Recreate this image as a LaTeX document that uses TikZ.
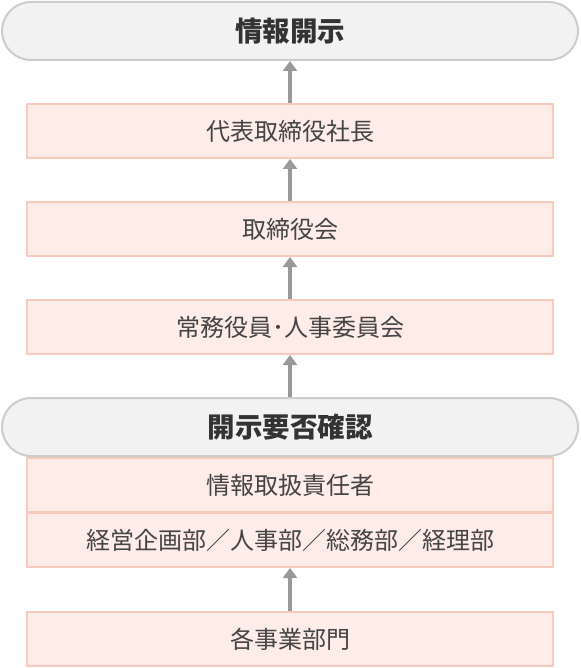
\documentclass[tikz,border=0pt]{standalone}
\usepackage{fontspec}
\setmainfont{Noto Sans CJK JP}
\usetikzlibrary{arrows.meta}
\usetikzlibrary{positioning}
\definecolor{pinkfill}{HTML}{FDECE8}
\definecolor{pinkline}{HTML}{F8CABD}
\definecolor{grayfill}{HTML}{F2F2F2}
\definecolor{grayline}{HTML}{CCCCCC}
\definecolor{arrowgray}{HTML}{999999}
\definecolor{textgray}{HTML}{444444}
\tikzset{
	pinkbox/.style={draw=pinkline,fill=pinkfill,line width=2pt,minimum width=526pt,minimum height=54pt,inner sep=0pt,text=textgray,font=\fontsize{24}{24}\selectfont},
	headbox/.style={draw=grayline,fill=grayfill,line width=2pt,minimum width=576pt,minimum height=58pt,rounded corners=29pt,inner sep=0pt,text=black!80,font=\fontsize{27.5}{27.5}\selectfont\bfseries},
	uparrow/.style={draw=arrowgray,line width=4pt,-{Triangle[width=14pt,length=10pt]}}
}
\begin{document}
\begin{tikzpicture}[x=1pt,y=-1pt]
		\useasboundingbox (0,0) rectangle (580,668);
		\node[headbox] (disclosure) at (290,31){情報開示};
		\node[pinkbox] (president) at (290,131){代表取締役社長};
		\node[pinkbox] (board) at (290,229){取締役会};
		\node[pinkbox] (committee) at (290,327){常務役員･人事委員会};
		\node[pinkbox] (officer) at (290,485){情報取扱責任者};
		\node[pinkbox] (depts) at (290,540){経営企画部／人事部／総務部／経理部};
		\node[headbox] (check) at (290,427){開示要否確認};
		\node[pinkbox] (units) at (290,639){各事業部門};
		\draw[uparrow] (president)--(disclosure);
		\draw[uparrow] (board)--(president);
		\draw[uparrow] (committee)--(board);
		\draw[uparrow] (check)--(committee);
		\draw[uparrow] (units)--(depts);
	\end{tikzpicture}
\end{document}
